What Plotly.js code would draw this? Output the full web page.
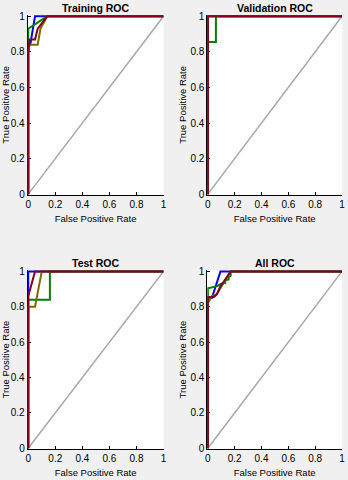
<!DOCTYPE html>
<html>
<head>
<meta charset="utf-8">
<script src="https://cdn.plot.ly/plotly-3.0.1.min.js"></script>
<style>
  html, body { margin: 0; padding: 0; background: #f0f0f0; }
  #plot { width: 348px; height: 480px; }
</style>
</head>
<body>
<div id="plot"></div>
<script>
// ROC points (false positive rate, true positive rate) for each class
// Training
let trainBlueX = [0, 0, 0.015, 0.05, 1];
let trainBlueY = [0, 0.83, 0.84, 1, 1];
let trainGreenX = [0, 0, 0.08, 0.14, 1];
let trainGreenY = [0, 0.93, 0.97, 1, 1];
let trainOliveX = [0, 0, 0.01, 0.07, 0.09, 0.14, 1];
let trainOliveY = [0, 0.8, 0.84, 0.84, 0.93, 1, 1];
let trainMaroonX = [0, 0, 0.01, 0.05, 0.07, 0.14, 1];
let trainMaroonY = [0, 0.8, 0.87, 0.87, 0.93, 1, 1];

// Validation
let valBlueX = [0, 0, 1];
let valBlueY = [0, 1, 1];
let valGreenX = [0, 0, 0.06, 0.06, 1];
let valGreenY = [0, 0.855, 0.855, 1, 1];
let valOliveX = [0, 0, 1];
let valOliveY = [0, 1, 1];
let valMaroonX = [0, 0, 1];
let valMaroonY = [0, 1, 1];

// Test
let testBlueX = [0, 0, 1];
let testBlueY = [0, 1, 1];
let testGreenX = [0, 0, 0.16, 0.16, 1];
let testGreenY = [0, 0.84, 0.84, 1, 1];
let testOliveX = [0, 0, 0.05, 0.1, 1];
let testOliveY = [0, 0.8, 0.8, 1, 1];
let testMaroonX = [0, 0, 0.05, 1];
let testMaroonY = [0, 0.86, 1, 1];

// All
let allBlueX = [0, 0, 0.03, 0.094, 1];
let allBlueY = [0, 0.85, 0.85, 1, 1];
let allGreenX = [0, 0, 0.07, 0.1, 0.13, 0.13, 0.155, 0.155, 0.17, 0.17, 1];
let allGreenY = [0, 0.904, 0.917, 0.93, 0.935, 0.95, 0.955, 0.97, 0.975, 1, 1];
let allOliveX = [0, 0, 0.03, 0.065, 0.17, 1];
let allOliveY = [0, 0.82, 0.86, 0.87, 1, 1];
let allMaroonX = [0, 0, 0.045, 0.067, 0.09, 0.17, 1];
let allMaroonY = [0, 0.855, 0.855, 0.87, 0.91, 1, 1];

let titles = ["Training ROC", "Validation ROC", "Test ROC", "All ROC"];
let colors = ["#0000ff", "#008000", "#7a6a00", "#800020"];

let panels = [
    [[trainBlueX, trainBlueY], [trainGreenX, trainGreenY], [trainOliveX, trainOliveY], [trainMaroonX, trainMaroonY]],
    [[valBlueX, valBlueY], [valGreenX, valGreenY], [valOliveX, valOliveY], [valMaroonX, valMaroonY]],
    [[testBlueX, testBlueY], [testGreenX, testGreenY], [testOliveX, testOliveY], [testMaroonX, testMaroonY]],
    [[allBlueX, allBlueY], [allGreenX, allGreenY], [allOliveX, allOliveY], [allMaroonX, allMaroonY]]
];

// subplot placement (paper fractions)
let xDomains = [[0.0796, 0.470], [0.5957, 0.9828], [0.0796, 0.470], [0.5957, 0.9828]];
let yDomains = [[0.594, 0.969], [0.594, 0.969], [0.0646, 0.4375], [0.0646, 0.4375]];

let data = [];
let layout = {
    width: 348,
    height: 480,
    margin: {l: 0, r: 0, t: 0, b: 0},
    paper_bgcolor: "#f0f0f0",
    plot_bgcolor: "#ffffff",
    showlegend: false,
    font: {family: "Liberation Sans, Arial, sans-serif", size: 10, color: "#000"},
    annotations: []
};

for (let p = 0; p < 4; p++) {
    let suf = p === 0 ? "" : String(p + 1);
    let xa = "x" + suf;
    let ya = "y" + suf;

    // diagonal reference line
    data.push({
        x: [0, 1], y: [0, 1], xaxis: xa, yaxis: ya,
        mode: "lines", line: {color: "#a8a8a8", width: 1.5},
        hoverinfo: "skip"
    });

    for (let c = 0; c < 4; c++) {
        data.push({
            x: panels[p][c][0], y: panels[p][c][1], xaxis: xa, yaxis: ya,
            mode: "lines", line: {color: colors[c], width: 2}
        });
    }

    let axisCommon = {
        showline: true, linecolor: "#000", linewidth: 1,
        mirror: false, showgrid: false, zeroline: false,
        ticks: "inside", ticklen: 3, tickcolor: "#000",
        dtick: 0.2, tick0: 0, layer: "below traces",
        tickfont: {size: 10}
    };

    layout["xaxis" + suf] = Object.assign({}, axisCommon, {
        domain: xDomains[p], range: [-0.004, 1.0], anchor: ya,
        title: {text: "False Positive Rate", font: {size: 9.5}, standoff: 6}
    });
    layout["yaxis" + suf] = Object.assign({}, axisCommon, {
        domain: yDomains[p], range: [-0.004, 1.008], anchor: xa,
        title: {text: "True Positive Rate", font: {size: 9.5}, standoff: 2}
    });

    layout.annotations.push({
        text: "<b>" + titles[p] + "</b>",
        xref: "paper", yref: "paper",
        x: (xDomains[p][0] + xDomains[p][1]) / 2,
        y: yDomains[p][1], yanchor: "bottom", xanchor: "center",
        showarrow: false, font: {size: 10.5}, yshift: -1
    });
}

Plotly.newPlot("plot", data, layout, {staticPlot: true});
</script>
</body>
</html>
